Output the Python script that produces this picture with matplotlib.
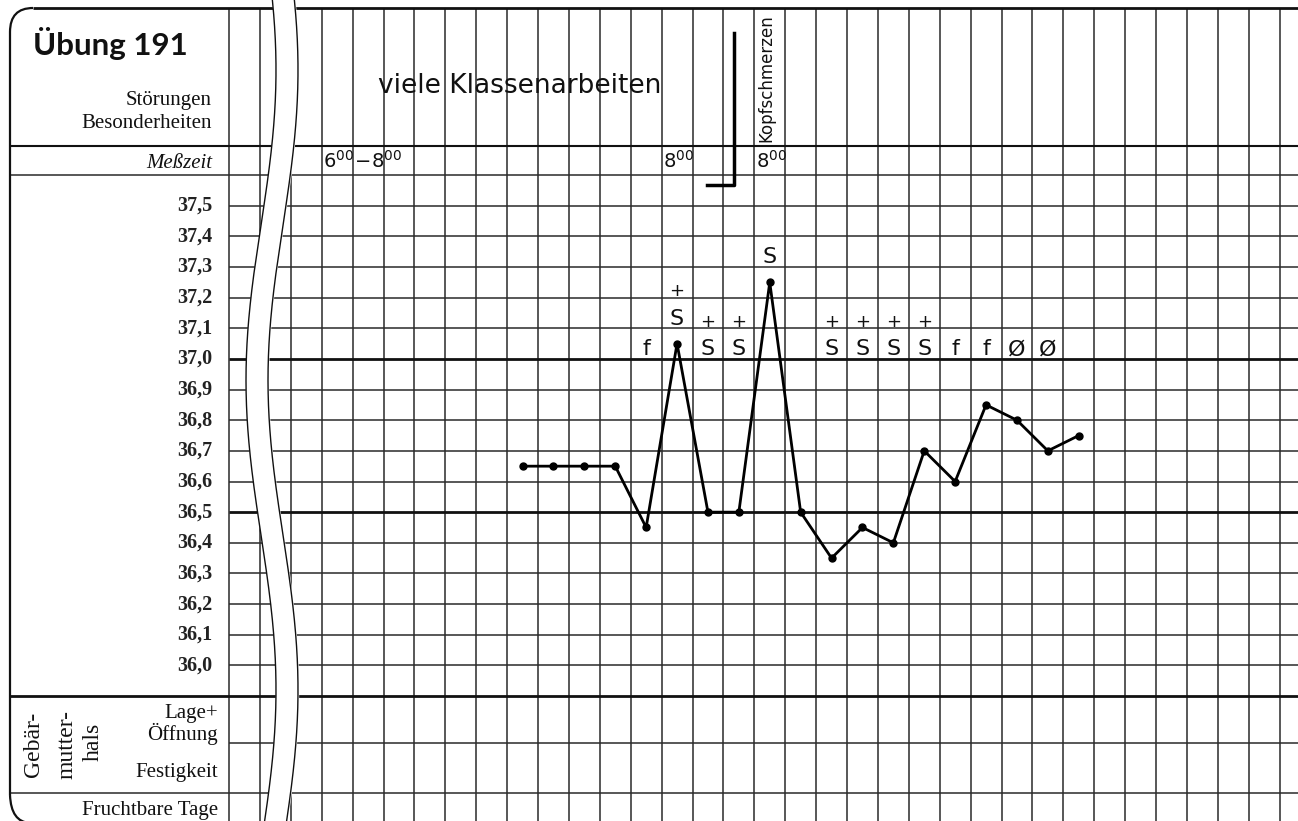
import numpy as np
import matplotlib.pyplot as plt
from matplotlib.path import Path
from matplotlib.patches import PathPatch

# Messwerte: Spalte im Blatt und Temperatur
tage = list(range(9, 28))
temperatur = [36.65, 36.65, 36.65, 36.65, 36.45, 37.05, 36.5, 36.5, 37.25,
              36.5, 36.35, 36.45, 36.4, 36.7, 36.6, 36.85, 36.8, 36.7, 36.75]

# Notizen über der 37,0-Linie
notiz_tage = [13, 14, 15, 16, 17, 19, 20, 21, 22, 23, 24, 25, 26]
notiz_zeichen = ["f", "S", "S", "S", "S", "S", "S", "S", "S", "f", "f", "Ø", "Ø"]
notiz_plus = [False, True, True, True, False, True, True, True, True,
              False, False, False, False]

# Achsenbeschriftung
temp_ticks = [36.0, 36.1, 36.2, 36.3, 36.4, 36.5, 36.6, 36.7,
              36.8, 36.9, 37.0, 37.1, 37.2, 37.3, 37.4, 37.5]
temp_labels = ["36,0", "36,1", "36,2", "36,3", "36,4", "36,5", "36,6", "36,7",
               "36,8", "36,9", "37,0", "37,1", "37,2", "37,3", "37,4", "37,5"]
dicke_linien = [37.0, 36.5, 35.9]

messzeit_tage = [3, 14, 17]
messzeit_text = [r"$6^{00}\!-\!8^{00}$", r"$8^{00}$", r"$8^{00}$"]

# Layout in Pixeln
W, H, DPI = 1298, 821, 100
X0, DX = 229, 30.9      # erste Spaltenlinie, Pixel pro Tag
Y0, DY = 175, 306.5     # Linie 37,6 , Pixel pro Grad


def xd(px):
    return (np.asarray(px) - X0) / DX


def yd(py):
    return 37.6 - (np.asarray(py) - Y0) / DY


ink = "#111111"
grid = "#2a2a2a"
serif = "Liberation Serif"
hand = "DejaVu Sans"

fig = plt.figure(figsize=(W / DPI, H / DPI), dpi=DPI)
ax = fig.add_axes([0, 0, 1, 1])
ax.set_xlim(xd(0), xd(W))
ax.set_ylim(yd(H), yd(0))
ax.axis("off")

# Spaltenlinien
ax.vlines(np.arange(0, 35), yd(H), yd(8), color=grid, lw=1.1, zorder=1)

# Temperaturzeilen
zeilen = np.round(np.arange(35.9, 37.65, 0.1), 1)
for t in zeilen:
    dick = t in dicke_linien
    start = xd(10) if t in (35.9, 37.6) else 0
    ax.hlines(t, start, xd(W), color=ink if dick else grid,
              lw=2.0 if dick else 1.1, zorder=1)

# weitere Zeilen oben und unten
ax.hlines(yd(8), xd(33), xd(W), color=ink, lw=2.0, zorder=1)
ax.hlines(yd(146), xd(10), xd(W), color=ink, lw=1.5, zorder=1)
ax.hlines(yd(743), 0, xd(W), color=grid, lw=1.1, zorder=1)
ax.hlines(yd(793), xd(10), xd(W), color=grid, lw=1.1, zorder=1)

# linker Rahmen mit runden Ecken
rahmen = Path([(xd(10), yd(795)), (xd(10), yd(32)), (xd(10), yd(8)), (xd(33), yd(8))],
              [Path.MOVETO, Path.LINETO, Path.CURVE3, Path.CURVE3])
ax.add_patch(PathPatch(rahmen, fill=False, color=ink, lw=1.6, zorder=2))
ecke = Path([(xd(10), yd(795)), (xd(11), yd(822)), (xd(30), yd(823))],
            [Path.MOVETO, Path.CURVE3, Path.CURVE3])
ax.add_patch(PathPatch(ecke, fill=False, color=ink, lw=1.6, zorder=2))

# Welle (Unterbrechung)
wy = np.linspace(0, H, 400)
wc = 272 + 15 * np.sin(2 * np.pi * (wy - 535) / 620)
ax.fill_betweenx(yd(wy), xd(wc - 11), xd(wc + 11), color="white", zorder=3)
ax.plot(xd(wc - 11), yd(wy), color=ink, lw=1.0, zorder=4)
ax.plot(xd(wc + 11), yd(wy), color=ink, lw=1.0, zorder=4)

# Kurve
x = np.array(tage) + 0.5
ax.plot(x, temperatur, color="black", lw=2.0, marker="o", ms=5, zorder=5)

# Notizen
for tag, z, plus in zip(notiz_tage, notiz_zeichen, notiz_plus):
    t = temperatur[tage.index(tag)]
    basis = max(37.0, np.ceil(round(t * 10, 6)) / 10)
    ax.text(tag + 0.5, basis + 0.012, z, ha="center", va="baseline",
            fontsize=16, family=hand, color=ink, zorder=6)
    if plus:
        ax.text(tag + 0.5, basis + 0.12, "+", ha="center", va="center",
                fontsize=13, family=hand, color=ink, zorder=6)

# Temperaturbeschriftung
for t, lab in zip(temp_ticks, temp_labels):
    ax.text(xd(212), t, lab, ha="right", va="center", fontsize=14.5,
            family=serif, weight="bold", color="#222222")

# Kopf links
ax.text(xd(33), yd(55), "Übung 191", ha="left", va="baseline",
        fontsize=22.5, family="Lato", weight="bold", color=ink)
ax.text(xd(212), yd(105), "Störungen", ha="right", va="baseline",
        fontsize=15, family=serif, color=ink)
ax.text(xd(212), yd(128), "Besonderheiten", ha="right", va="baseline",
        fontsize=15, family=serif, color=ink)
ax.text(xd(212), yd(168), "Meßzeit", ha="right", va="baseline",
        fontsize=15, family=serif, style="italic", color=ink)

# Fuß links
ax.text(xd(33), yd(744), "Gebär-", rotation=90, ha="center", va="center",
        fontsize=17, family=serif, color=ink)
ax.text(xd(67), yd(744), "mutter-", rotation=90, ha="center", va="center",
        fontsize=17, family=serif, color=ink)
ax.text(xd(93), yd(742), "hals", rotation=90, ha="center", va="center",
        fontsize=17, family=serif, color=ink)
ax.text(xd(218), yd(718), "Lage+", ha="right", va="baseline",
        fontsize=15, family=serif, color=ink)
ax.text(xd(218), yd(740), "Öffnung", ha="right", va="baseline",
        fontsize=15, family=serif, color=ink)
ax.text(xd(218), yd(777), "Festigkeit", ha="right", va="baseline",
        fontsize=15, family=serif, color=ink)
ax.text(xd(218), yd(815), "Fruchtbare Tage", ha="right", va="baseline",
        fontsize=15, family=serif, color=ink)

# Handschriftliche Einträge oben
ax.text(xd(378), yd(86), "viele Klassenarbeiten", ha="left", va="center",
        fontsize=19, family=hand, color=ink)
ax.text(xd(766), yd(78), "Kopfschmerzen", rotation=90, ha="center", va="center",
        fontsize=12, family=hand, color=ink)
for tag, txt in zip(messzeit_tage, messzeit_text):
    ax.text(tag + 0.05, yd(168), txt, ha="left", va="baseline",
            fontsize=14, family=hand, color=ink)
ax.plot([xd(707), xd(734), xd(734)], [yd(185), yd(185), yd(33)],
        color="black", lw=2.5, zorder=5)

fig.savefig("out.png", dpi=DPI, facecolor="white")
